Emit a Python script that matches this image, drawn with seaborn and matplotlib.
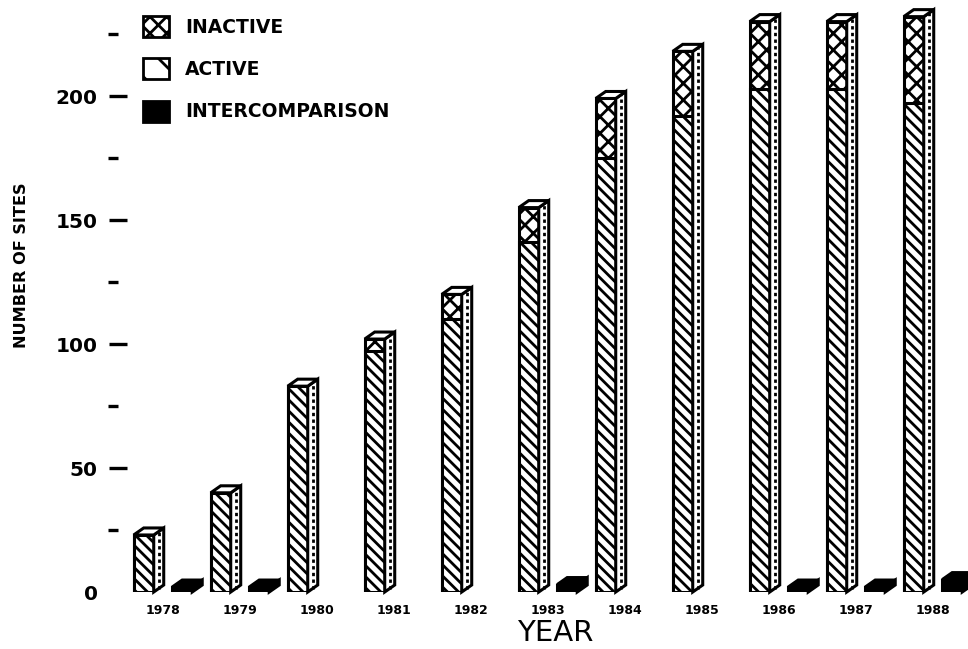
import numpy as np
import pandas as pd
import matplotlib
matplotlib.use("Agg")
import matplotlib.pyplot as plt
import seaborn as sns
from matplotlib.patches import Polygon, Patch
from matplotlib.ticker import FixedLocator

# Site counts per year
years = ["1978", "1979", "1980", "1981", "1982", "1983",
         "1984", "1985", "1986", "1987", "1988"]
active = [23, 40, 83, 97, 110, 141, 175, 192, 203, 203, 197]
inactive = [0, 0, 0, 5, 10, 14, 24, 26, 27, 27, 35]
intercomparison = [2, 2, 0, 0, 0, 3, 0, 0, 2, 2, 5]

major_ticks = [0, 50, 100, 150, 200]
minor_ticks = [25, 75, 125, 175, 225]

totals = [a + i for a, i in zip(active, inactive)]
groups = ["SITES", "INTERCOMPARISON"]

df_total = pd.DataFrame({
    "year": years * 2,
    "group": ["SITES"] * len(years) + ["INTERCOMPARISON"] * len(years),
    "count": totals + intercomparison,
})
df_active = pd.DataFrame({
    "year": years * 2,
    "group": ["SITES"] * len(years) + ["INTERCOMPARISON"] * len(years),
    "count": active + intercomparison,
})

sns.set_theme(style="white")
plt.rcParams["font.family"] = ["DejaVu Sans"]
plt.rcParams["text.color"] = "black"
plt.rcParams["axes.labelcolor"] = "black"
plt.rcParams["xtick.color"] = "black"
plt.rcParams["ytick.color"] = "black"
plt.rcParams["hatch.linewidth"] = 2.0
plt.rcParams["hatch.color"] = "black"

W, H = 968, 649
fig = plt.figure(figsize=(W / 100, H / 100), dpi=100)
ax_left, ax_bottom_px, ax_w = 118, 592, 850
ax = fig.add_axes([ax_left / W, (H - ax_bottom_px) / H, ax_w / W, ax_bottom_px / H])

common = dict(x="year", y="count", hue="group", hue_order=groups, order=years,
              width=1.0, gap=0.48, dodge=True, legend=False, errorbar=None,
              palette=["white", "black"], ax=ax)
sns.barplot(data=df_total, **common)
sns.barplot(data=df_active, **common)

ylim_top = ax_bottom_px / 2.48
ax.set_ylim(0, ylim_top)
ax.set_xlim(-0.584, -0.584 + ax_w / 77.0)

total_bars, inter_bars, active_bars, inter_dup = ax.containers[:4]
for p in inter_dup.patches:
    p.remove()

edge_lw = 2.2
for p in total_bars.patches:
    p.set_facecolor("white")
    p.set_edgecolor("black")
    p.set_hatch("xx")
    p.set_linewidth(edge_lw)
for p in active_bars.patches:
    p.set_facecolor("white")
    p.set_edgecolor("black")
    p.set_hatch("\\\\\\")
    p.set_linewidth(edge_lw)
for p in inter_bars.patches:
    p.set_facecolor("black")
    p.set_edgecolor("black")
    p.set_linewidth(edge_lw)
    if p.get_height() <= 0:
        p.set_visible(False)

# depth of the pseudo-3D boxes, in pixels converted to data units
x0, x1 = ax.get_xlim()
dx = 10 * (x1 - x0) / ax_w
dy = 7 * ylim_top / ax_bottom_px


def add_depth(p, face):
    xl, w, h = p.get_x(), p.get_width(), p.get_height()
    xr = xl + w
    side = Polygon([(xr, 0), (xr + dx, dy), (xr + dx, h + dy), (xr, h)],
                   closed=True, facecolor=face, edgecolor="black",
                   linewidth=edge_lw, clip_on=False, zorder=p.get_zorder())
    top = Polygon([(xl, h), (xl + dx, h + dy), (xr + dx, h + dy), (xr, h)],
                  closed=True, facecolor=face, edgecolor="black",
                  linewidth=edge_lw, clip_on=False, zorder=p.get_zorder())
    ax.add_patch(side)
    ax.add_patch(top)
    if face == "white" and h > 0:
        ax.plot([xr + dx / 2, xr + dx / 2], [dy / 2, h + dy / 2], color="black",
                lw=2.0, linestyle=(0, (1.2, 1.2)), clip_on=False,
                zorder=p.get_zorder() + 0.1)


for p in total_bars.patches:
    add_depth(p, "white")
for p in inter_bars.patches:
    if p.get_height() > 0:
        add_depth(p, "black")

for s in ax.spines.values():
    s.set_visible(False)

ax.yaxis.set_major_locator(FixedLocator(major_ticks))
ax.yaxis.set_minor_locator(FixedLocator(minor_ticks))
ax.set_yticklabels([str(v) for v in major_ticks], fontsize=14.5, fontweight="bold")
ax.tick_params(axis="y", which="major", direction="inout", length=13.5,
               width=2.4, color="black", left=True, pad=8)
ax.tick_params(axis="y", which="minor", direction="out", length=7.2,
               width=2.4, color="black", left=True)
ax.yaxis.get_major_ticks()[0].tick1line.set_visible(False)

ax.tick_params(axis="x", length=0, pad=9)
for lbl in ax.get_xticklabels():
    lbl.set_fontsize(9)
    lbl.set_fontweight("bold")

ax.set_xlabel("YEAR", fontsize=21, labelpad=1)
ax.xaxis.label.set_x((555 - ax_left) / ax_w)
ax.set_ylabel("")
fig.text(22 / W, 1 - 265 / H, "NUMBER OF SITES", rotation=90, fontsize=11.6,
         fontweight="bold", ha="center", va="center")

handles = [
    Patch(facecolor="white", edgecolor="black", hatch="xx", linewidth=2.0, label="INACTIVE"),
    Patch(facecolor="white", edgecolor="black", hatch="\\", linewidth=2.0, label="ACTIVE"),
    Patch(facecolor="black", edgecolor="black", linewidth=2.0, label="INTERCOMPARISON"),
]
leg = fig.legend(handles=handles, loc="upper left",
                 bbox_to_anchor=(143 / W, 1 - 16 / H), frameon=False,
                 borderpad=0, borderaxespad=0, handlelength=1.4, handleheight=1.33,
                 handletextpad=0.85, labelspacing=1.15,
                 prop={"size": 13.5, "weight": "bold"})

fig.savefig("out.png", dpi=100)
